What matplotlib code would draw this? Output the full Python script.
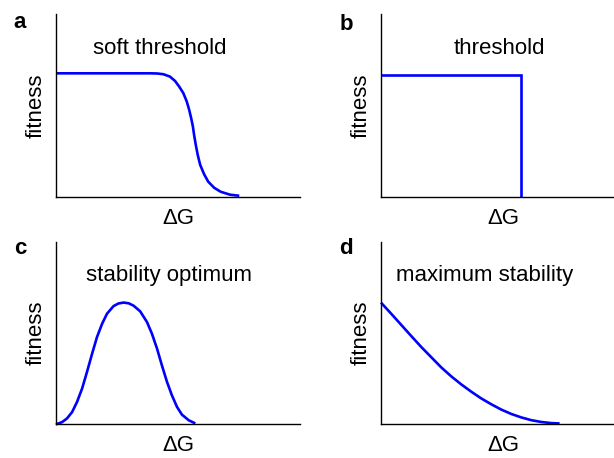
import matplotlib
matplotlib.use("Agg")
import matplotlib.pyplot as plt

plt.rcParams['font.family'] = ['Liberation Sans', 'DejaVu Sans']

# curves (x: ΔG, y: fitness, both in axis fractions)
soft_x = [0.0, 0.385, 0.415, 0.440, 0.467, 0.488, 0.505, 0.522, 0.536, 0.546,
          0.554, 0.561, 0.566, 0.573, 0.581, 0.591, 0.607, 0.624, 0.648, 0.675,
          0.713, 0.751]
soft_y = [0.675, 0.675, 0.674, 0.670, 0.657, 0.633, 0.602, 0.566, 0.520, 0.474,
          0.429, 0.384, 0.337, 0.282, 0.227, 0.173, 0.122, 0.081, 0.048, 0.026,
          0.010, 0.004]

step_x = [0.0, 0.574, 0.574]
step_y = [0.668, 0.668, 0.0]

opt_x = [0.0, 0.025, 0.045, 0.066, 0.086, 0.107, 0.127, 0.148, 0.168, 0.189,
         0.209, 0.236, 0.256, 0.277, 0.298, 0.318, 0.345, 0.373, 0.393, 0.414,
         0.434, 0.455, 0.475, 0.496, 0.516, 0.544, 0.571]
opt_y = [0.0, 0.012, 0.032, 0.067, 0.122, 0.196, 0.287, 0.387, 0.478, 0.551,
         0.606, 0.648, 0.662, 0.667, 0.663, 0.650, 0.619, 0.560, 0.497, 0.415,
         0.323, 0.232, 0.159, 0.095, 0.053, 0.022, 0.005]

max_x = [0.0, 0.042, 0.083, 0.124, 0.165, 0.206, 0.247, 0.288, 0.329, 0.370,
         0.411, 0.452, 0.493, 0.534, 0.575, 0.616, 0.657, 0.698, 0.732]
max_y = [0.665, 0.604, 0.543, 0.482, 0.422, 0.366, 0.310, 0.261, 0.217, 0.177,
         0.140, 0.108, 0.079, 0.055, 0.036, 0.021, 0.011, 0.005, 0.003]

panels = [
    ('a', 'soft threshold', soft_x, soft_y),
    ('b', 'threshold', step_x, step_y),
    ('c', 'stability optimum', opt_x, opt_y),
    ('d', 'maximum stability', max_x, max_y),
]

W, H = 614, 458
fig = plt.figure(figsize=(W / 100, H / 100), dpi=100)

# pixel layout: axes origin (left, bottom-y), letter pos, title pos
layout = {
    'a': ((56, 196.5), (20, 23), (160, 49)),
    'b': ((381, 196.7), (346, 24), (499, 49)),
    'c': ((56, 424.3), (20, 249), (169, 275)),
    'd': ((381, 424.0), (346, 249), (485, 275)),
}
ax_w, ax_h = 244, 182.5

for letter, title, xs, ys in panels:
    (x0, y0), (lx, ly), (tx, ty) = layout[letter]
    ax = fig.add_axes([x0 / W, (H - y0) / H, ax_w / W, ax_h / H])
    join = 'miter' if letter == 'b' else 'round'
    ax.plot(xs, ys, color='#0000ff', lw=1.9, clip_on=False,
            solid_joinstyle=join, solid_capstyle='butt')
    ax.set_xlim(0, 1)
    ax.set_ylim(0, 1)
    ax.set_xticks([])
    ax.set_yticks([])
    for s in ['top', 'right']:
        ax.spines[s].set_visible(False)
    for s in ['left', 'bottom']:
        ax.spines[s].set_linewidth(1.0)
    ax.set_xlabel('ΔG', fontsize=16, labelpad=8)
    ax.set_ylabel('fitness', fontsize=16, labelpad=7)
    fig.text(lx / W, 1 - ly / H, letter, fontsize=16, fontweight='bold',
             ha='center', va='center')
    fig.text(tx / W, 1 - ty / H, title, fontsize=16, ha='center', va='center')

fig.savefig('out.png', dpi=100)
